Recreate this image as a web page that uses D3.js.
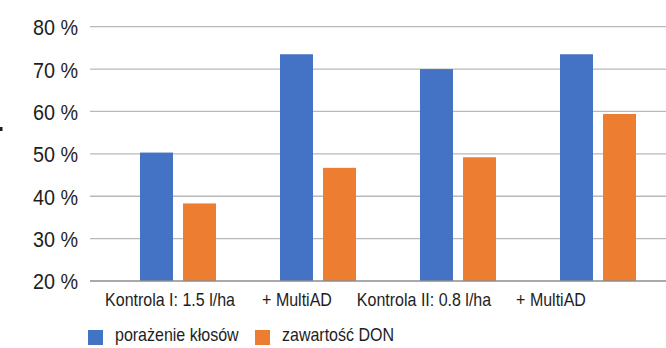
<!DOCTYPE html>
<html>
<head>
<meta charset="utf-8">
<script src="https://cdn.jsdelivr.net/npm/d3@7/dist/d3.min.js"></script>
<style>
  html, body { margin: 0; padding: 0; background: #fff; }
  svg { display: block; }
  text { font-family: "Liberation Sans", Arial, sans-serif; fill: #1e1e1e; }
</style>
</head>
<body>
<script>
// Categories and series values (percent)
const categories = ["Kontrola I: 1.5 l/ha", "+ MultiAD", "Kontrola II: 0.8 l/ha", "+ MultiAD "];
const categoryLabels = ["Kontrola I: 1.5 l/ha", "+ MultiAD", "Kontrola II: 0.8 l/ha", "+ MultiAD"];
const seriesNames = ["porażenie kłosów", "zawartość DON"];
const porazenie = [50.3, 73.5, 70.0, 73.5];
const don = [38.3, 46.7, 49.2, 59.4];
const yTicks = [20, 30, 40, 50, 60, 70, 80];
const colors = ["#4472C4", "#ED7D31"];

const W = 666, H = 348;
const NARROW = 0.89; // condensed look for the labels
const svg = d3.select("body").append("svg").attr("width", W).attr("height", H);

const y = d3.scaleLinear().domain([20, 80]).range([281, 26.7]);
const x0 = d3.scaleBand().domain(categories).range([108, 668]);
const x1 = d3.scaleBand().domain(seriesNames).range([32, 108]).paddingInner(0.233);
const labelX = d3.scalePoint().domain(categories).range([170, 551]);

// Horizontal gridlines
svg.append("g").selectAll("line").data(yTicks.filter(t => t > 20)).join("line")
  .attr("x1", 90).attr("x2", W)
  .attr("y1", d => y(d)).attr("y2", d => y(d))
  .attr("stroke", "#b9b9b9").attr("stroke-width", 1.3);

// Y axis labels
const yAxis = d3.axisLeft(y).tickValues(yTicks).tickSize(0).tickPadding(0)
  .tickFormat(d => d + " %");
svg.append("g").attr("transform", "translate(78,0)").call(yAxis)
  .call(g => g.select(".domain").remove())
  .selectAll("text").attr("font-size", 22).attr("dy", "0.36em")
  .attr("transform", "scale(0.9,1)")
  .style("font-family", null).attr("fill", "#1e1e1e");

// Bars
const rows = categories.map((c, i) => ({ c, vals: [porazenie[i], don[i]] }));
const grp = svg.append("g").selectAll("g").data(rows).join("g")
  .attr("transform", d => `translate(${x0(d.c)},0)`);
grp.selectAll("rect").data(d => d.vals.map((v, k) => ({ v, s: seriesNames[k], k })))
  .join("rect")
  .attr("x", d => x1(d.s)).attr("width", x1.bandwidth())
  .attr("y", d => y(d.v)).attr("height", d => y(20) - y(d.v))
  .attr("fill", d => colors[d.k]);

// Baseline axis
svg.append("line").attr("x1", 90).attr("x2", W).attr("y1", y(20)).attr("y2", y(20))
  .attr("stroke", "#8c8c8c").attr("stroke-width", 1.5);

// Category labels
svg.append("g").selectAll("text").data(categories).join("text")
  .attr("transform", d => `translate(${labelX(d)},306) scale(${NARROW},1)`)
  .attr("text-anchor", "middle").attr("font-size", 18)
  .text((d, i) => categoryLabels[i]);

// Legend
const legendX = [88, 255];
const legend = svg.append("g").selectAll("g").data(seriesNames).join("g")
  .attr("transform", (d, i) => `translate(${legendX[i]},0)`);
legend.append("rect").attr("x", 0).attr("y", 330).attr("width", 15).attr("height", 15)
  .attr("fill", (d, i) => colors[i]);
legend.append("text").attr("transform", `translate(27,341) scale(${NARROW},1)`)
  .attr("font-size", 18).text(d => d);

// Stray mark at the left edge
svg.append("rect").attr("x", 0).attr("y", 127).attr("width", 2.5).attr("height", 4).attr("fill", "#1e1e1e");
</script>
</body>
</html>
